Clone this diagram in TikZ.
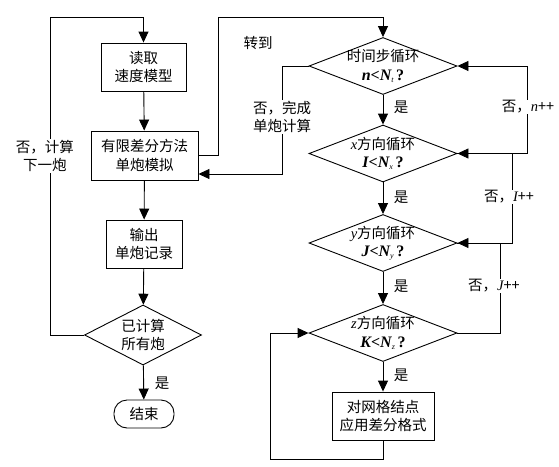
\documentclass[tikz,border=0pt]{standalone}
\usepackage{fontspec}
\setmainfont{Liberation Serif}
\newfontfamily\cjk{Noto Sans CJK SC}
\usetikzlibrary{shapes.geometric,arrows.meta}
\newcommand{\mth}[2]{{\rmfamily\fontsize{16}{18}\selectfont\bfseries\itshape #1<N\raisebox{-2pt}{\fontsize{8}{9}\selectfont\mdseries #2}\,\upshape ?}}
\newcommand{\vi}[1]{{\rmfamily\itshape #1}}
\begin{document}
\begin{tikzpicture}[x=1pt,y=-1pt,
  every node/.style={font=\cjk\fontsize{14.5}{18.5}\selectfont, align=center},
  proc/.style={draw, line width=0.9pt, inner sep=0, minimum width=#1},
  dec/.style={draw, diamond, line width=0.9pt, inner sep=0},
  lab/.style={fill=white, inner sep=1pt},
  arr/.style={line width=0.9pt, -{Triangle[length=11pt,width=10pt]}},
  ln/.style={line width=0.9pt}]
\useasboundingbox (0,0) rectangle (559,466);
% left column
\node[proc=85pt, minimum height=48pt] (b1) at (143.5,67) {读取\\速度模型};
\node[proc=107pt, minimum height=49pt] (b2) at (144.5,155.5) {有限差分方法\\单炮模拟};
\node[proc=76pt, minimum height=48pt] (b3) at (144,244) {输出\\单炮记录};
\node[dec, minimum width=117pt, minimum height=60pt] (dd) at (143,335) {};
\node at (dd) {已计算\\所有炮};
\node[draw, line width=0.9pt, rounded corners=13pt, minimum width=60pt, minimum height=28pt, inner sep=0] (end) at (144,414) {结束};
% right column
\node[dec, minimum width=148pt, minimum height=57pt] (d1) at (383,66) {};
\node at (d1) {时间步循环\\\mth{n}{t}};
\node[dec, minimum width=148pt, minimum height=57pt] (d2) at (383,153.5) {};
\node at (d2) {\vi{x}方向循环\\\mth{I}{x}};
\node[dec, minimum width=148pt, minimum height=57pt] (d3) at (383,243) {};
\node at (d3) {\vi{y}方向循环\\\mth{J}{y}};
\node[dec, minimum width=148pt, minimum height=57pt] (d4) at (383,333) {};
\node at (d4) {\vi{z}方向循环\\\mth{K}{z}};
\node[proc=102pt, minimum height=48pt] (b4) at (383,416) {对网格结点\\应用差分格式};
% coordinates
\coordinate (p1) at (50,335);
\coordinate (p2) at (50,17);
\coordinate (p3) at (218,155.5);
\coordinate (p4) at (218,17);
\coordinate (p5) at (282,66);
\coordinate (p6) at (282,174);
\coordinate (p7) at (383,459);
\coordinate (p8) at (270,459);
\coordinate (p9) at (270,333);
\coordinate (q1) at (527,153.5);
\coordinate (q2) at (527,66);
\coordinate (q3) at (512,243);
\coordinate (q4) at (512,153.5);
\coordinate (q5) at (500,333);
\coordinate (q6) at (500,243);
% connectors left
\draw[arr] (b1) -- (b2);
\draw[arr] (b2) -- (b3);
\draw[arr] (b3) -- (dd);
\draw[arr] (dd) -- (end);
\draw[arr] (dd.west) -- (p1) -- (p2) -- (p2 -| b1) -- (b1.north);
\draw[arr] (b2.east |- p3) -- (p3) -- (p4) -- (p4 -| d1) -- (d1.north);
\draw[arr] (d1.west) -- (p5) -- (p6) -- (b2.east |- p6);
% connectors right
\draw[arr] (d1) -- (d2);
\draw[arr] (d2) -- (d3);
\draw[arr] (d3) -- (d4);
\draw[arr] (d4) -- (b4);
\draw[arr] (b4.south) -- (p7) -- (p8) -- (p9) -- (d4.west);
\draw[arr] (d2.east) -- (q1) -- (q2) -- (d1.east);
\draw[arr] (d3.east) -- (q3) -- (q4) -- (d2.east);
\draw[arr] (d4.east) -- (q5) -- (q6) -- (d3.east);
% labels
\node[lab] (l1) at (45,156) {否，计算\\下一炮};
\node[lab] (l2) at (282,117) {否，完成\\单炮计算};
\node (l3) at (258,43) {转到};
\node[lab] (l4) at (528,107) {否，\vi{n}++};
\node[lab] (l5) at (509,197) {否，\vi{I}++};
\node[lab] (l6) at (494,286) {否，\vi{J}++};
\node (y1) at (401,107) {是};
\node (y2) at (401,197) {是};
\node (y3) at (401,286) {是};
\node (y4) at (401,375) {是};
\node (y5) at (162,383) {是};
\end{tikzpicture}
\end{document}
